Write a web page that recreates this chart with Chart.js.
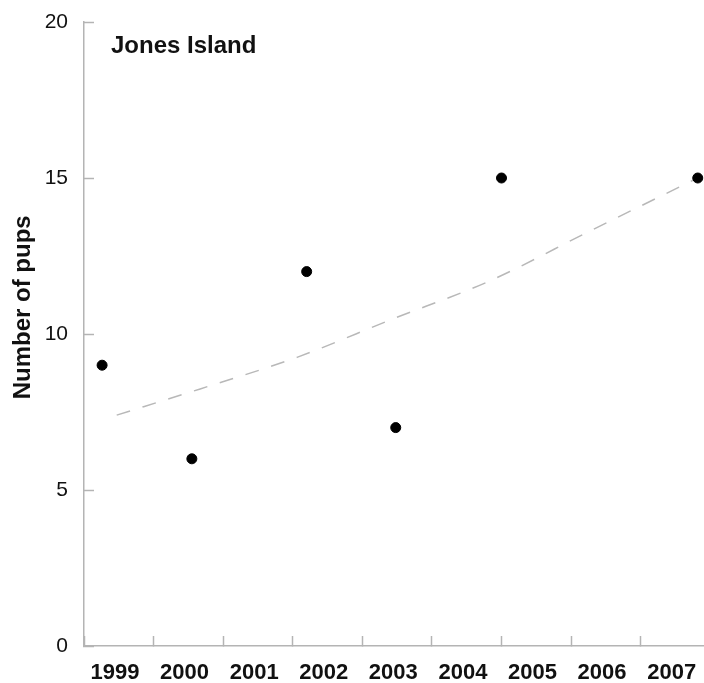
<!DOCTYPE html>
<html>
<head>
<meta charset="utf-8">
<script src="https://cdn.jsdelivr.net/npm/chart.js@4"></script>
<style>
  html, body { margin: 0; padding: 0; background: #fff; }
  canvas { display: block; }
</style>
</head>
<body>
<canvas id="pupsChart" width="704" height="683"></canvas>
<script>
// values (x in fractional years)
var yearLabels = [1999, 2000, 2001, 2002, 2003, 2004, 2005, 2006, 2007];
var pointYears = [1999.26, 2000.55, 2002.2, 2003.48, 2005.0, 2007.82];
var pupCounts = [9, 6, 12, 7, 15, 15];
var trendYears = [1999.47, 2000.67, 2002.07, 2003.40, 2004.83, 2006.27, 2007.82];
var trendValues = [7.4, 8.24, 9.26, 10.45, 11.7, 13.3, 15.0];
var yTicks = [0, 5, 10, 15, 20];

var axisGray = '#b4b4b4';
var fontFamily = '"Liberation Sans", Arial, sans-serif';

function toXY(xs, ys) {
    return xs.map(function (x, i) { return { x: x, y: ys[i] }; });
}

// "Jones Island" sits inside the plot area
var panelLabel = {
    id: 'panelLabel',
    afterDraw: function (chart) {
        var ctx = chart.ctx;
        ctx.save();
        ctx.font = 'bold 24px ' + fontFamily;
        ctx.fillStyle = '#111';
        ctx.textBaseline = 'alphabetic';
        ctx.textAlign = 'left';
        ctx.fillText('Jones Island', chart.chartArea.left + 27, chart.chartArea.top + 31);
        ctx.restore();
    }
};

var ctx = document.getElementById('pupsChart').getContext('2d');
var pupsChart = new Chart(ctx, {
    type: 'scatter',
    data: {
        datasets: [{
            label: 'Trend',
            type: 'line',
            data: toXY(trendYears, trendValues),
            borderColor: '#b8b8b8',
            borderWidth: 1.5,
            borderDash: [14, 13],
            pointRadius: 0,
            fill: false,
            cubicInterpolationMode: 'monotone',
            order: 2
        }, {
            label: 'Number of pups',
            data: toXY(pointYears, pupCounts),
            backgroundColor: '#000',
            borderColor: '#000',
            pointRadius: 5,
            pointHoverRadius: 5,
            clip: false,
            order: 1
        }]
    },
    options: {
        responsive: false,
        animation: false,
        layout: { autoPadding: false, padding: { top: 22, right: 0, left: 0, bottom: 0 } },
        plugins: {
            legend: { display: false },
            tooltip: { enabled: false }
        },
        scales: {
            x: {
                type: 'linear',
                min: 1999,
                max: 2007.91,
                afterBuildTicks: function (scale) {
                    scale.ticks = yearLabels.map(function (y) { return { value: y }; });
                },
                afterFit: function (scale) {
                    scale.height = 37;
                    scale.paddingLeft = 0;
                    scale.paddingRight = 0;
                },
                grid: {
                    drawOnChartArea: false,
                    drawTicks: true,
                    tickLength: -10,
                    tickColor: axisGray,
                    tickWidth: 1.5
                },
                border: { display: true, color: axisGray, width: 1.5 },
                ticks: {
                    labelOffset: 31,
                    padding: 24,
                    maxRotation: 0,
                    autoSkip: false,
                    color: '#111',
                    font: { family: fontFamily, size: 22, weight: 'bold' },
                    callback: function (v) { return String(v); }
                }
            },
            y: {
                min: 0,
                max: 20,
                afterBuildTicks: function (scale) {
                    scale.ticks = yTicks.map(function (v) { return { value: v }; });
                },
                afterFit: function (scale) {
                    scale.width = 84;
                    scale.paddingTop = 0;
                    scale.paddingBottom = 0;
                },
                grid: {
                    drawOnChartArea: false,
                    drawTicks: true,
                    tickLength: -10,
                    tickColor: axisGray,
                    tickWidth: 1.5
                },
                border: { display: true, color: axisGray, width: 1.5 },
                ticks: {
                    padding: 26,
                    color: '#111',
                    font: { family: fontFamily, size: 21 }
                },
                title: {
                    display: true,
                    text: '        Number of pups',
                    color: '#111',
                    font: { family: fontFamily, size: 24, weight: 'bold' },
                    padding: { top: 9, bottom: 0 }
                }
            }
        }
    },
    plugins: [panelLabel]
});
</script>
</body>
</html>
